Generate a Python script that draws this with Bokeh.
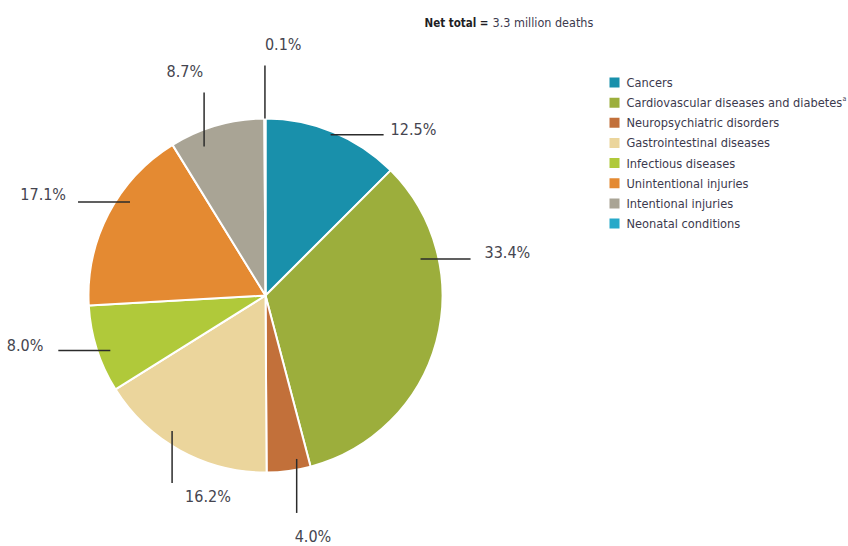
import math
from bokeh.plotting import figure
from bokeh.models import Range1d
from bokeh.core.properties import value
from bokeh.embed import file_html
from bokeh.resources import INLINE

# ---- data ----
categories = ["Cancers", "Cardiovascular diseases and diabetes", "Neuropsychiatric disorders",
              "Gastrointestinal diseases", "Infectious diseases", "Unintentional injuries",
              "Intentional injuries", "Neonatal conditions"]
shares = [12.5, 33.4, 4.0, 16.2, 8.0, 17.1, 8.7, 0.1]
share_labels = ["12.5%", "33.4%", "4.0%", "16.2%", "8.0%", "17.1%", "8.7%", "0.1%"]
colors = ["#1990ab", "#9cae3c", "#c2703a", "#ebd59c", "#b0c93a", "#e48a32", "#a9a495", "#27a9c9"]
title_bold = "Net total ="
title_rest = "3.3 million deaths"

FONT = "DejaVu Sans Condensed"
W, H = 848, 546

p = figure(width=W, height=H, output_backend="svg", toolbar_location=None,
           x_range=Range1d(0, W), y_range=Range1d(0, H), min_border=0)
p.axis.visible = False
p.grid.visible = False
p.outline_line_color = None
p.background_fill_color = "white"

def Y(img_y):
    return H - img_y

cx, cy, R = 265, Y(295), 177

# wedges (clockwise from 12 o'clock)
starts, ends = [], []
acc = 0.0
total = sum(shares)
for s in shares:
    a0 = math.pi / 2 - acc / total * 2 * math.pi
    acc += s
    a1 = math.pi / 2 - acc / total * 2 * math.pi
    starts.append(a0)
    ends.append(a1)

p.wedge(x=cx, y=cy, radius=R, start_angle=starts, end_angle=ends, direction="clock",
        fill_color=colors, line_color="white", line_width=2)

# leader lines: (fraction within slice, radius fraction, direction, length, label dx, label dy, align)
leaders = [
    (0.49, 0.98, (1, 0), 53, 7, 5, "left"),
    (0.264, 0.90, (1, 0), 50, 14, 6, "left"),
    (0.275, 0.94, (0, -1), 54, -2, -24, "left"),
    (0.599, 0.93, (0, -1), 52, 13, -13, "left"),
    (0.436, 0.93, (-1, 0), 52, -15, 5, "right"),
    (0.615, 0.93, (-1, 0), 52, -12, 7, "right"),
    (0.296, 0.91, (0, 1), 54, -1, 21, "right"),
    (0.5, 1.0, (0, 1), 53, 0, 21, "left"),
]
x0s, y0s, x1s, y1s, lx, ly, la = [], [], [], [], [], [], []
for i, (f, rf, d, L, dx, dy, al) in enumerate(leaders):
    ang = starts[i] + f * (ends[i] - starts[i])
    ax = cx + rf * R * math.cos(ang)
    ay = cy + rf * R * math.sin(ang)
    bx = ax + d[0] * L
    by = ay + d[1] * L
    x0s.append(ax); y0s.append(ay); x1s.append(bx); y1s.append(by)
    lx.append(bx + dx); ly.append(by + dy); la.append(al)

p.segment(x0=x0s, y0=y0s, x1=x1s, y1=y1s, line_color="#2b2b2b", line_width=1.5)
for i in range(len(shares)):
    p.text(x=[lx[i]], y=[ly[i]], text=[share_labels[i]], text_align=la[i], text_baseline="middle",
           text_font=value(FONT), text_font_size="16px", text_color="#45454f")

# legend
leg_x, leg_y0, leg_dy = 614, 82, 20.15
leg_ys = [Y(leg_y0 + i * leg_dy) for i in range(len(categories))]
p.rect(x=[leg_x] * len(categories), y=leg_ys, width=10, height=10, fill_color=colors, line_color=None)
p.text(x=[leg_x + 12] * len(categories), y=leg_ys, text=categories, text_baseline="middle",
       text_font=value(FONT), text_font_size="12.7px", text_color="#3c3a4e")
# superscript a
p.text(x=[842], y=[leg_ys[1] + 4], text=["a"], text_baseline="middle",
       text_font=value(FONT), text_font_size="7px", text_color="#3c3a4e")

# title
p.text(x=[424], y=[Y(22)], text=[title_bold], text_baseline="middle", text_font=value(FONT),
       text_font_style="bold", text_font_size="11.5px", text_color="#1e1e24")
p.text(x=[492], y=[Y(22)], text=[title_rest], text_baseline="middle", text_font=value(FONT),
       text_font_size="12.5px", text_color="#3c3a4e")

open("out.html", "w").write(file_html(p, INLINE))
